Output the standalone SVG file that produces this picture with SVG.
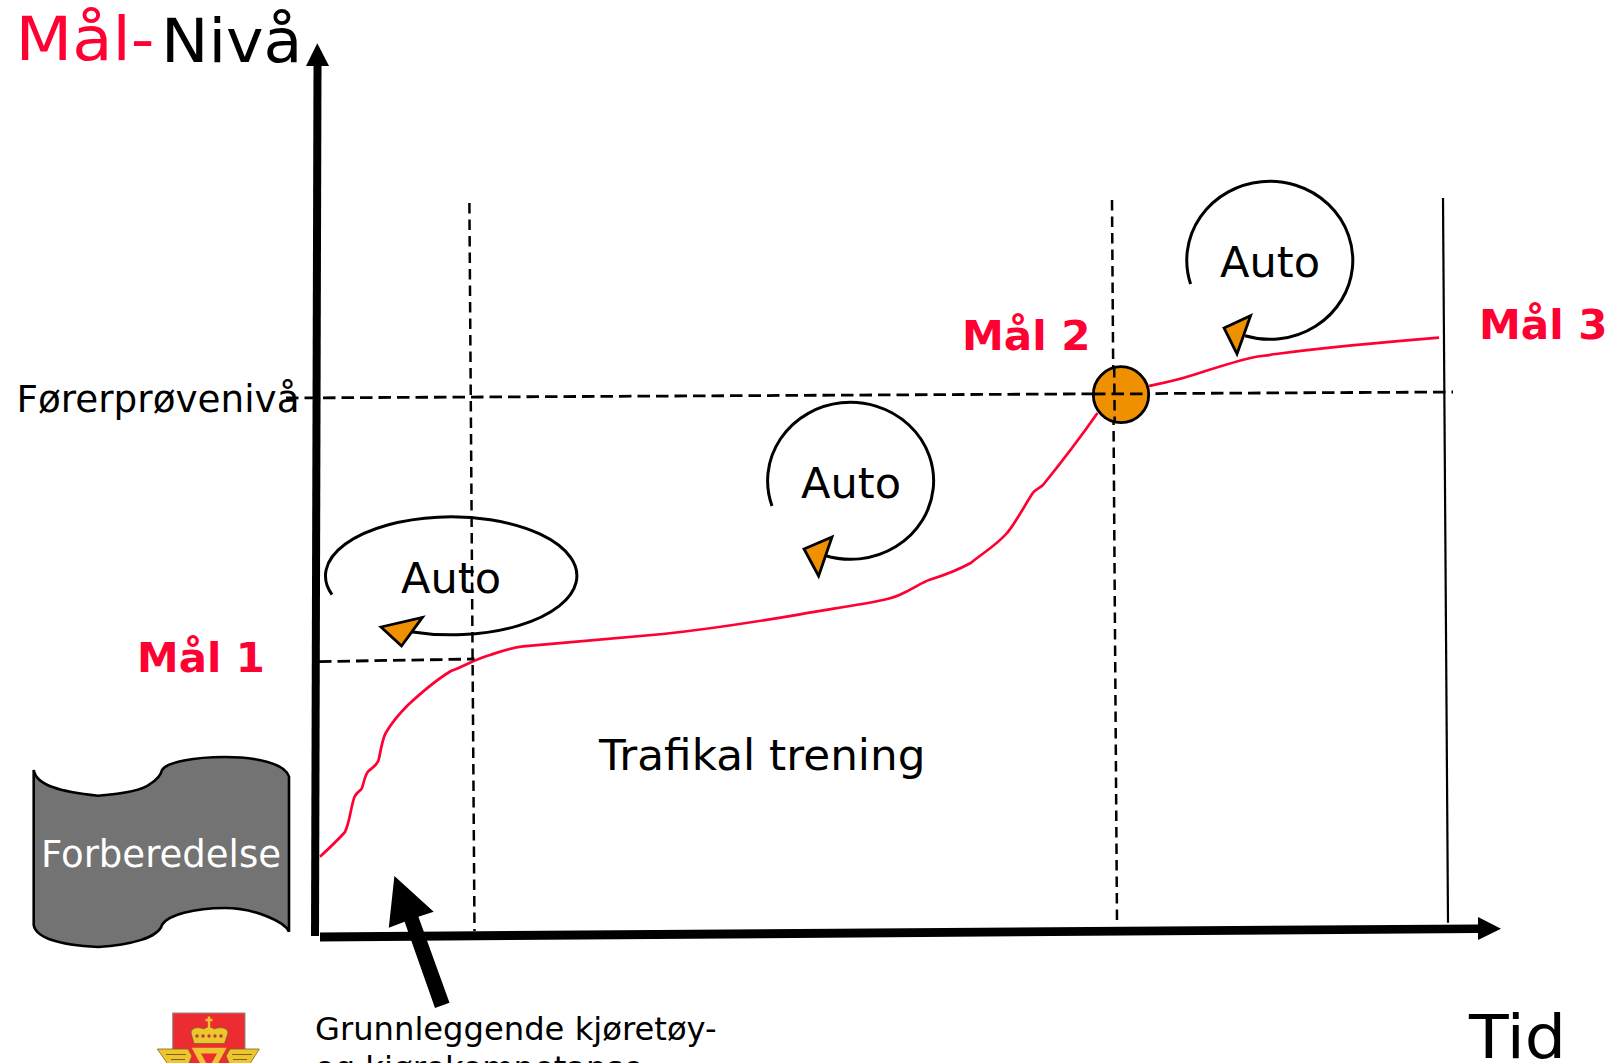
<svg xmlns="http://www.w3.org/2000/svg" width="1611" height="1063" viewBox="0 0 1611 1063">
<style>
text{font-family:"DejaVu Sans",sans-serif;fill:#000}
.red{fill:#ff0033}
.goal{font-weight:bold;font-size:40px;fill:#ff0033}
.auto{font-size:42px}
.dash{fill:none;stroke:#000;stroke-width:2.5;stroke-dasharray:10.5 6}
.hdash{fill:none;stroke:#000;stroke-width:2.8;stroke-dasharray:12.5 6}
.loop{fill:none;stroke:#000;stroke-width:3}
.tri{fill:#ee9000;stroke:#000;stroke-width:2.8;stroke-linejoin:miter}
.curve{fill:none;stroke:#ff0033;stroke-width:2.7;stroke-linejoin:round}
.ax{fill:#000}
.gold{fill:#efc52f;stroke:#7a6420;stroke-width:.8}
.gl{fill:none;stroke:#7a6420;stroke-width:1.2}
</style>
<rect width="1611" height="1063" fill="#fff"/>
<g id="connectors">
<polygon class="ax" points="313.5,66 321.5,66 319,936 311,936"/>
<polygon class="ax" points="317.3,43.3 329,66 306,66"/>
<polygon class="ax" points="320,932.4 1478,924.4 1478,933 320,941.4"/>
<polygon class="ax" points="1501,928.7 1478,917 1478,940"/>
<path class="curve" d="M320,856.7 Q336,842 345,832 C350,822 351,805 354.6,796.7 C358,790 360,792 362,788 C364,782 365,775 368,771.7 C372,767 376,767 378.6,760 C381,750 382,740 385.7,733 C392,722 400,713 408,705 C422,692 436,680 451,671 C465,666 475,659 490,655 C505,650 512,647.5 523,646.4 C570,642 620,638 663,634 C710,629 755,622 800,614.3 C830,609 860,605 883,600 C892,598 898,596 903.5,593 C912,589 925,581 929,580 C945,575 958,570 970.7,563 C980,555 997,545 1007,533 C1015,524 1026,503 1032.8,493 C1036,489 1040,488 1043,485 C1060,464 1080,438 1097.5,413"/>
<path class="curve" d="M1149,386 C1163,383 1178,380 1193,375 C1215,368 1236,361 1255,357 C1262,356 1268,355 1276,354 C1330,347 1385,342 1439,337.7"/>
<path class="hdash" d="M286,398 L1453,392"/>
<path class="dash" d="M469.4,203 L474.5,931"/>
<path class="dash" d="M1112,200 L1117,921"/>
<path class="hdash" d="M319,661.6 L474.5,659"/>
<path d="M1443,198 L1448,922.7" fill="none" stroke="#000" stroke-width="2.2"/>
<polygon class="ax" points="394.4,876 388.8,927.7 404.6,921.7 435,1008 449.5,1002.7 418.4,916.7 433.7,911.7"/>
</g>
<g id="title"><text x="15.5" y="60" font-size="60" class="red" textLength="139" lengthAdjust="spacingAndGlyphs">Mål-</text><text x="161" y="62" font-size="60" textLength="141.5" lengthAdjust="spacingAndGlyphs">Nivå</text></g>
<g id="tid"><text x="1469" y="1058" font-size="60" textLength="97" lengthAdjust="spacingAndGlyphs">Tid</text></g>
<g id="forerprovenivaa"><text x="16.5" y="412" font-size="36.4" textLength="283" lengthAdjust="spacingAndGlyphs">Førerprøvenivå</text></g>
<g id="maal1"><text x="137" y="672" class="goal" textLength="128" lengthAdjust="spacingAndGlyphs">Mål 1</text></g>
<g id="maal2"><text x="962" y="350.3" class="goal" textLength="128.6" lengthAdjust="spacingAndGlyphs">Mål 2</text></g>
<g id="maal3"><text x="1479" y="339.3" class="goal" textLength="128.6" lengthAdjust="spacingAndGlyphs">Mål 3</text></g>
<g id="trening"><text x="599" y="769.5" font-size="42" textLength="326.5" lengthAdjust="spacingAndGlyphs">Trafikal trening</text></g>
<g id="grunnleggende"><text x="315" y="1040" font-size="32.2">Grunnleggende kjøretøy-</text><text x="315" y="1079" font-size="32.2">og kjørekompetanse</text></g>
<g id="auto1">
<path class="loop" d="M332,594.6 A125.7,59 0 1 1 410.7,631.7"/>
<polygon class="tri" points="381,627 422.4,617.4 401.5,646"/>
<text x="401" y="593.4" class="auto" textLength="100" lengthAdjust="spacingAndGlyphs">Auto</text>
</g>
<g id="auto2">
<path class="loop" d="M772,506 A83,78.5 0 1 1 825,555.5"/>
<polygon class="tri" points="804,549 832,537 818.6,576"/>
<text x="801" y="498" class="auto" textLength="100" lengthAdjust="spacingAndGlyphs">Auto</text>
</g>
<g id="auto3">
<path class="loop" d="M1190.6,284 A83,79 0 1 1 1245,335.7"/>
<polygon class="tri" points="1224,328 1250.6,315.7 1237,354"/>
<text x="1220" y="277" class="auto" textLength="100" lengthAdjust="spacingAndGlyphs">Auto</text>
</g>
<g id="maal2-punkt">
<ellipse cx="1121" cy="394.7" rx="27.7" ry="28" fill="#ee9000" stroke="#000" stroke-width="2.8"/>
<path class="hdash" d="M1093,394 L1149,393.8"/>
<path class="dash" d="M1114.2,367 L1114.7,422"/>
</g>
<g id="forberedelse">
<path fill="#737373" stroke="#000" stroke-width="2.6" stroke-linejoin="miter" d="M33.7,770 C36,785 60,792 98,795.7 C120,794 143,790 150,784 C158,779 161,775 162,770 C167,762 195,757 224.5,757 C255,757 285,763 289,776.7 L289,931.7 C285,922 255,908 224.5,908 C195,908 167,915 162,925 C158,938 130,945 98,947 C60,945 36,938 33.7,925 Z"/>
<text x="41" y="867" font-size="36.4" textLength="240" lengthAdjust="spacingAndGlyphs" style="fill:#fff">Forberedelse</text>
</g>
<g id="logo">
<rect x="172.7" y="1013" width="72.3" height="60" fill="#ed2c32" stroke="#8c8c8c" stroke-width="1"/>
<path class="gold" d="M194,1043.5 L191,1033 C191,1027.5 198,1026.5 204,1029 C206,1026.5 212,1026.5 214,1029 C220,1026.5 228,1027.5 228,1033 L224.5,1043.5 Z"/>
<path d="M209,1016.5 V1028 M205.5,1020 H212.5" stroke="#efc52f" stroke-width="2.4" fill="none"/>
<g fill="#a8452f"><circle cx="197" cy="1036" r="1.7"/><circle cx="203" cy="1036" r="1.7"/><circle cx="209" cy="1036" r="1.7"/><circle cx="215" cy="1036" r="1.7"/><circle cx="221" cy="1036" r="1.7"/></g>
<path class="gold" d="M157.3,1049 H188 L192,1056 L186,1070 H172 Z"/>
<path class="gold" d="M259.3,1049 H230 L226,1056 L232,1070 H246 Z"/>
<path class="gl" d="M166,1054.5 H186 M171,1059.5 H185 M252,1054.5 H232 M247,1059.5 H233"/>
<path d="M191.7,1047.7 H226.7 L209,1080 Z" fill="#efc52f"/>
<path d="M201,1053.5 H217 L209,1068 Z" fill="#ed2c32"/>
</g>
</svg>
